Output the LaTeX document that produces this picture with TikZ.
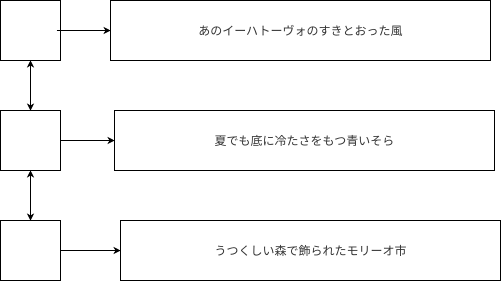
\documentclass[tikz,border=0pt]{standalone}
\usepackage{fontspec}
\newfontfamily\jpfont{Noto Sans CJK JP}
\usetikzlibrary{arrows.meta,positioning}

\begin{document}
\begin{tikzpicture}[x=1pt,y=-1pt,
  node distance=50pt,
  sbox/.style={rectangle,draw,line width=1pt,minimum size=60pt,inner sep=0pt,outer sep=0pt},
  bbox/.style={rectangle,draw,line width=1pt,minimum width=380pt,minimum height=60pt,outer sep=0pt,
    text=black!80,font=\jpfont\fontsize{12}{14}\selectfont},
  arrow/.style={-{Stealth[length=7pt,width=7pt,inset=2pt]},line width=1pt},
  dblarrow/.style={{Stealth[length=7pt,width=7pt,inset=2pt]}-{Stealth[length=7pt,width=7pt,inset=2pt]},line width=1pt}]
\useasboundingbox (0,0) rectangle (501,282);
\node[sbox] (s1) at (30.5,30.5) {};
\node[sbox,below=of s1] (s2) {};
\node[sbox,below=of s2] (s3) {};
\node[bbox,right=50pt of s1] (b1) {あのイーハトーヴォのすきとおった風};
\node[bbox,right=54pt of s2] (b2) {夏でも底に冷たさをもつ青いそら};
\node[bbox,right=60pt of s3] (b3) {うつくしい森で飾られたモリーオ市};
\draw[arrow] ([xshift=-4pt]s1.east)--(b1.west);
\draw[arrow] (s2)--(b2); \draw[arrow] (s3)--(b3);
\draw[dblarrow] (s1)--(s2); \draw[dblarrow] (s2)--(s3);
\end{tikzpicture}
\end{document}
